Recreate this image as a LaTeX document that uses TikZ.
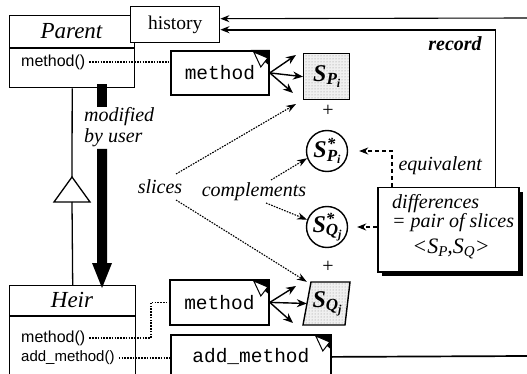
\documentclass[tikz,border=0pt]{standalone}
\usepackage{fontspec}
\setmainfont{Liberation Serif}
\setsansfont{Liberation Sans}
\setmonofont{Liberation Mono}
\usetikzlibrary{arrows.meta,patterns,shadows,calc}

\tikzset{
  clsbox/.style={draw, line width=1.4pt, anchor=north west, inner sep=0pt, fill=white},
  mbox/.style={draw, line width=1.8pt, anchor=north west, inner sep=0pt, fill=white,
    font=\fontsize{19.5}{20}\selectfont\ttfamily},
  itext/.style={font=\fontsize{20}{21}\selectfont\itshape},
  ops/.style={font=\fontsize{16}{17}\selectfont\sffamily, anchor=west, inner sep=1pt},
  fanarrow/.style={-{Stealth[length=10pt,width=8pt]}, line width=1.4pt},
  dotline/.style={dash pattern=on 1.6pt off 1.2pt, line width=1.1pt},
  dotarrow/.style={dotline, -{Stealth[length=10pt,width=7pt]}},
  dasharrow/.style={dash pattern=on 4pt off 3pt, line width=1.2pt, -{Stealth[length=9pt,width=7pt]}},
  slicebox/.style={draw, line width=1.4pt, preaction={fill=gray!12}, pattern=dots, pattern color=gray!90},
  starcirc/.style={circle, draw, line width=1.4pt, minimum size=41pt, inner sep=0pt, fill=white},
  histarrow/.style={-{Stealth[length=9pt,width=7pt]}},
}

\newcommand\dogear[1]{%
  \fill (#1.north east) ++(-19,0) -- (#1.north east) -- ++(0,16) -- cycle;
  \draw[fill=white, line width=1pt] (#1.north east) ++(-16,2) -- ++(14,6) -- ++(-7,9) -- cycle;
}
\newcommand\Sbi[2]{{\fontsize{24}{24}\selectfont\bfseries\itshape S\raisebox{-0.3ex}{\fontsize{17}{17}\selectfont #1\raisebox{-0.35ex}{\fontsize{12}{12}\selectfont #2}}}}
\newcommand\Sstar[2]{{\fontsize{24}{24}\selectfont\bfseries\itshape S\rlap{\raisebox{0.75ex}{\fontsize{17}{17}\selectfont *}}\raisebox{-0.3ex}{\fontsize{17}{17}\selectfont #1\raisebox{-0.35ex}{\fontsize{12}{12}\selectfont #2}}}}

\begin{document}
\begin{tikzpicture}[x=1pt,y=-1pt]
\clip (0,0) rectangle (527,374);
\fill[white] (0,0) rectangle (527,374);

% Parent class
\node[clsbox, minimum width=125pt, minimum height=72pt] (P) at (9,15) {};
\draw[line width=1.4pt] (9,48) -- (134,48);
\node[font=\fontsize{23}{23}\selectfont\itshape] (Pt) at (71.5,31) {Parent};
\node[ops] (Pm) at (20,62) {method()};

% history
\node[clsbox, minimum width=89pt, minimum height=36pt, font=\fontsize{19.5}{20}\selectfont] (H) at (130,6) {history};

% method box (parent)
\node[mbox, minimum width=98pt, minimum height=44pt] (M1) at (170,50) {method};
\dogear{M1}
\draw[dotline] ([xshift=3pt]Pm.east) -- (Pm.east -| M1.west);

% slices of parent
\node[slicebox, minimum width=46pt, minimum height=46pt, anchor=north west, inner sep=0pt] (SP) at (303,53) {\Sbi{P}{i}};
\node[font=\fontsize{20}{20}\selectfont] (plus1) at (328,111) {+};
\node[starcirc] (SPs) at (327,151) {\Sstar{P}{i}};
\node[starcirc] (SQs) at (327,227) {\Sstar{Q}{j}};
\node[font=\fontsize{20}{20}\selectfont] (plus2) at (328,267) {+};
\draw[slicebox] (311,282) -- (350,282) -- (345,325) -- (303,325) -- cycle;
\node[minimum width=40pt, minimum height=43pt, inner sep=0pt] (SQ) at (327,303.5) {\Sbi{Q}{j}};

% fan arrows (parent)
\coordinate (f1) at (296,55);
\coordinate (f3) at (293,93);
\draw[fanarrow] (M1.east) -- (f1);
\draw[fanarrow] (M1.east) -- (SP.west);
\draw[fanarrow] (M1.east) -- (f3);

% method box (heir)
\node[mbox, minimum width=99pt, minimum height=45pt] (M2) at (169,279) {method};
\dogear{M2}
\coordinate (g1) at (296,286);
\coordinate (g3) at (293,323);
\draw[fanarrow] (M2.east) -- (g1);
\draw[fanarrow] (M2.east) -- (SQ.west);
\draw[fanarrow] (M2.east) -- (g3);

% add_method box
\node[mbox, minimum width=160pt, minimum height=44pt] (AM) at (170,334) {add\_method};
\dogear{AM}
\coordinate (Rout) at (527,356);
\draw[line width=1.7pt] (AM.east) -- (Rout);

% Heir class
\node[clsbox, minimum width=126pt, minimum height=110pt] (Hr) at (9,285) {};
\draw[line width=1.4pt] (9,316) -- (135,316);
\node[font=\fontsize{23}{23}\selectfont\itshape] (Ht) at (72,300) {Heir};
\node[ops] (Hm) at (20,338) {method()};
\node[ops, font=\fontsize{15}{17}\selectfont\sffamily] (Ha) at (20,358) {add\_method()};
\draw[dotline] ([xshift=3pt]Hm.east) -| ([xshift=-18pt]M2.west) -- (M2.west);
\draw[dotline] ([xshift=3pt]Ha.east) -- (Ha.east -| AM.west);

% inheritance
\coordinate (triA) at (72,177);
\coordinate (triB) at (72,202);
\draw[line width=1.3pt] (P.south) -- (triA);
\draw[line width=1.3pt, fill=white] (triA) -- (90,202) -- (54,202) -- cycle;
\draw[line width=1.3pt] (triB) -- (Hr.north);

% modified by user
\fill (97,84) rectangle (107,107);
\fill (97,149) -- (107,149) -- (107,263) -- (112,263) -- (102,288) -- (92,263) -- (97,263) -- cycle;
\node[itext, align=left, anchor=west, inner sep=0pt] (mod) at (84,127) {modified\\by user};

% slices
\node[itext] (sl) at (160,187) {slices};
\coordinate (s1) at (176,174);
\coordinate (s1e) at (296,104);
\coordinate (s2) at (176,200);
\draw[dotarrow] (s1) -- (s1e);
\draw[dotarrow] (s2) -- (SQ.north west);

% complements
\node[itext] (co) at (254,192) {complements};
\coordinate (c1) at (271,180);
\coordinate (c2) at (266,203);
\draw[dotarrow] (c1) -- (SPs.200);
\draw[dotarrow] (c2) -- (SQs.160);

% differences
\node[draw, line width=1.5pt, fill=white, minimum width=141pt, minimum height=84pt, anchor=north west,
  drop shadow={shadow xshift=4pt, shadow yshift=-4pt, fill=black, opacity=1}] (D) at (377,187) {};
\node[itext, anchor=base west, inner sep=0pt] (d1) at (392,208) {differences};
\node[itext, anchor=base west, inner sep=0pt] (d2) at (392,227) {= pair of slices};
\node[font=\fontsize{22}{22}\selectfont\itshape, anchor=base, inner sep=0pt] (d3) at (451,253) {<S\raisebox{-0.35ex}{\fontsize{15}{15}\selectfont P},S\raisebox{-0.35ex}{\fontsize{15}{15}\selectfont Q}>};

\node[itext, anchor=west] (eq) at (395,166) {equivalent};
\draw[dasharrow, shorten >=11pt] ([xshift=15pt]D.north west) |- (SPs.east);
\draw[dasharrow, shorten >=9pt] (D.west |- SQs.east) -- (SQs.east);

% record
\node[font=\fontsize{20}{20}\selectfont\bfseries\itshape] (rec) at (455,44) {record};
\draw[line width=1.7pt, histarrow] ([xshift=-24pt]D.north east) |- ([yshift=-5pt]H.east);
\coordinate (Tout) at (527,18);
\draw[line width=1.1pt, histarrow] (Tout) -- ([yshift=6pt]H.east);
\end{tikzpicture}
\end{document}
